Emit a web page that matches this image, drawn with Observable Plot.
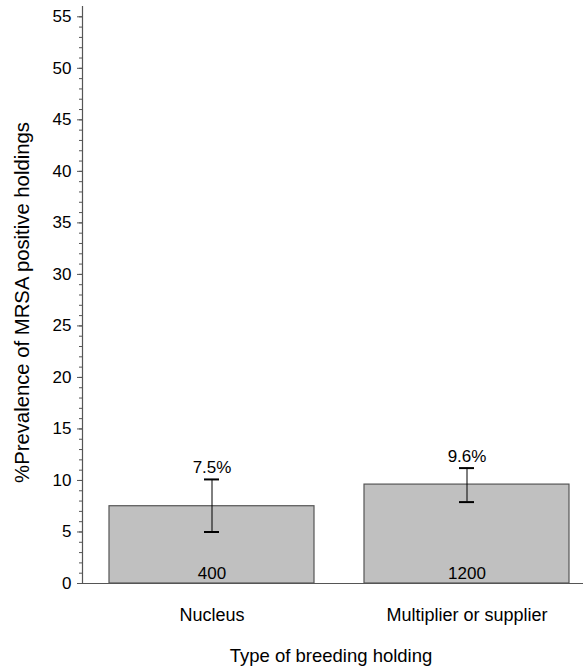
<!DOCTYPE html>
<html>
<head>
<meta charset="utf-8">
<script src="https://cdn.jsdelivr.net/npm/d3@7"></script>
<script src="https://cdn.jsdelivr.net/npm/@observablehq/plot@0.6"></script>
<style>
  html, body { margin: 0; padding: 0; background: #fff; }
  svg { display: block; }
</style>
</head>
<body>
<div id="chart"></div>
<script>
const types = ["Nucleus", "Multiplier or supplier"];
const prevalence = [7.5, 9.6];
const lower = [5.0, 7.9];
const upper = [10.1, 11.2];
const counts = [400, 1200];
const majorTicks = [0, 5, 10, 15, 20, 25, 30, 35, 40, 45, 50, 55];
const minorTicks = d3.range(0, 56, 1);

const data = types.map((t, i) => ({
  type: t, value: prevalence[i], lo: lower[i], hi: upper[i], n: counts[i]
}));

const chart = Plot.plot({
  width: 585,
  height: 668,
  marginLeft: 82,
  marginRight: 2,
  marginTop: 6,
  marginBottom: 85,
  style: { fontFamily: "'Liberation Sans', Arial, sans-serif", background: "#fff", color: "#000" },
  x: { type: "band", domain: types, paddingInner: 0.196, paddingOuter: 0.0797, align: 0.648, label: null },
  y: { domain: [0, 56], label: null },
  marks: [
    Plot.barY(data, { x: "type", y: "value", fill: "#c0c0c0", stroke: "#555", strokeWidth: 1.2 }),
    Plot.ruleX(data, { x: "type", y1: "lo", y2: "hi", stroke: "#000", strokeWidth: 1 }),
    Plot.tickY(data, { x: "type", y: "hi", stroke: "#000", strokeWidth: 2, insetLeft: 95, insetRight: 95 }),
    Plot.tickY(data, { x: "type", y: "lo", stroke: "#000", strokeWidth: 2, insetLeft: 95, insetRight: 95 }),
    Plot.text(data, { x: "type", y: "hi", text: d => d.value + "%", lineAnchor: "bottom", dy: -6, fontSize: 17, fill: "#000" }),
    Plot.text(data, { x: "type", y: 0, text: d => String(d.n), lineAnchor: "bottom", dy: -5, fontSize: 17, fill: "#000" }),
    Plot.axisY({ ticks: minorTicks, tickSize: 3, text: null, stroke: "#555" }),
    Plot.axisY({ ticks: majorTicks, tickSize: 5, tickPadding: 6, fontSize: 17, stroke: "#555", fill: "#000", label: null }),
    Plot.axisX({ tickSize: 0, tickPadding: 25, fontSize: 18, fill: "#000", label: null }),
    Plot.ruleY([0], { stroke: "#555", strokeWidth: 1.2 }),
    Plot.frame({ anchor: "left", stroke: "#555", strokeWidth: 1.2 }),
    Plot.text(["Type of breeding holding"], { frameAnchor: "bottom", textAnchor: "middle", lineAnchor: "bottom", dy: 78, dx: -2, fontSize: 18.5, fill: "#000" }),
    Plot.text(["%Prevalence of MRSA positive holdings"], { frameAnchor: "left", textAnchor: "middle", lineAnchor: "bottom", rotate: -90, dx: -54, dy: 7.5, fontSize: 20.3, fill: "#000" })
  ]
});
document.getElementById("chart").appendChild(chart);
</script>
</body>
</html>
